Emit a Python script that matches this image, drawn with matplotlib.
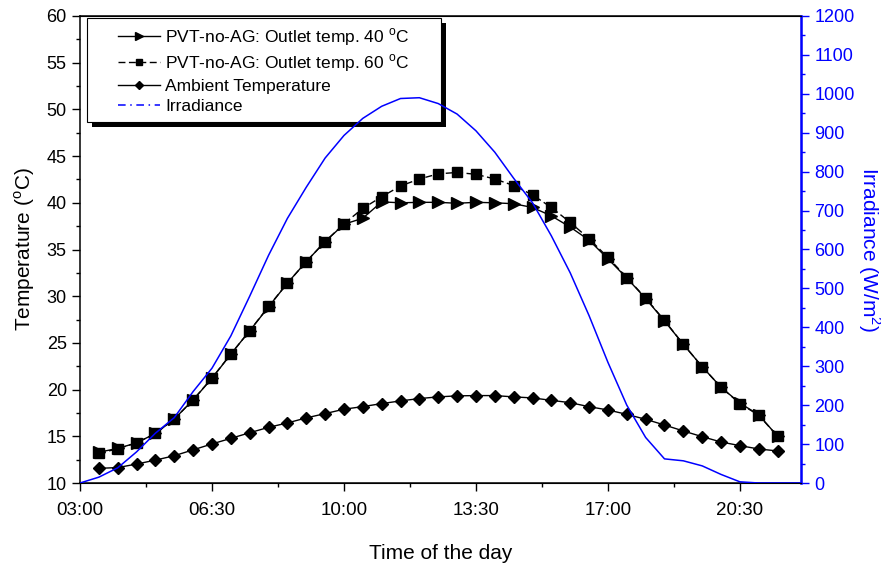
import matplotlib
matplotlib.use("Agg")
import matplotlib.pyplot as plt
from matplotlib.lines import Line2D
from matplotlib.patches import Rectangle
from matplotlib.ticker import MultipleLocator, FuncFormatter

plt.rcParams["font.family"] = ["Liberation Sans", "DejaVu Sans"]
plt.rcParams["mathtext.fontset"] = "custom"
plt.rcParams["mathtext.rm"] = "Liberation Sans"

# temperature samples, every 30 min
temp_times = ["03:30", "04:00", "04:30", "05:00", "05:30", "06:00", "06:30", "07:00",
              "07:30", "08:00", "08:30", "09:00", "09:30", "10:00", "10:30", "11:00",
              "11:30", "12:00", "12:30", "13:00", "13:30", "14:00", "14:30", "15:00",
              "15:30", "16:00", "16:30", "17:00", "17:30", "18:00", "18:30", "19:00",
              "19:30", "20:00", "20:30", "21:00", "21:30"]
outlet_40 = [13.3, 13.7, 14.3, 15.3, 16.85, 18.9, 21.2, 23.8, 26.3, 28.85, 31.4, 33.7,
             35.85, 37.7, 38.35, 40.1, 40.0, 40.05, 40.05, 39.95, 40.05, 40.0, 39.9, 39.5,
             38.6, 37.4, 36.0, 34.0, 31.95, 29.75, 27.35, 24.85, 22.45, 20.25, 18.55,
             17.3, 15.0]
outlet_60 = [13.2, 13.65, 14.3, 15.3, 16.85, 18.9, 21.25, 23.8, 26.3, 28.9, 31.4, 33.7,
             35.85, 37.75, 39.4, 40.65, 41.8, 42.55, 43.1, 43.25, 43.05, 42.55, 41.85,
             40.85, 39.5, 37.9, 36.15, 34.15, 32.0, 29.8, 27.4, 24.85, 22.45, 20.25,
             18.5, 17.25, 15.0]
ambient = [11.57, 11.65, 12.03, 12.45, 12.92, 13.55, 14.18, 14.78, 15.38, 15.96, 16.43,
           16.97, 17.43, 17.9, 18.18, 18.5, 18.79, 19.04, 19.22, 19.33, 19.36, 19.36,
           19.22, 19.11, 18.85, 18.6, 18.17, 17.82, 17.35, 16.82, 16.21, 15.57, 14.96,
           14.39, 14.0, 13.64, 13.43]

# irradiance samples
irr_times = ["03:00", "03:30", "04:00", "04:30", "05:00", "05:30", "06:00", "06:30",
             "07:00", "07:30", "08:00", "08:30", "09:00", "09:30", "10:00", "10:30",
             "11:00", "11:30", "12:00", "12:30", "13:00", "13:30", "14:00", "14:30",
             "15:00", "15:30", "16:00", "16:30", "17:00", "17:30", "18:00", "18:30",
             "19:00", "19:30", "20:00", "20:30", "21:00", "21:30", "22:00", "22:30"]
irradiance = [0, 15, 39, 80, 128, 168, 235, 295, 378, 480, 585, 680, 760, 835, 893, 937,
              968, 988, 990, 975, 948, 905, 850, 783, 720, 635, 540, 430, 310, 200, 117,
              62, 57, 44, 22, 3, 0, 0, 0, 0]


def to_hours(stamps):
    return [int(s[:2]) + int(s[3:]) / 60.0 for s in stamps]


def hhmm(h, _pos=None):
    total = int(round(h * 60))
    return f"{total // 60:02d}:{total % 60:02d}"


t = to_hours(temp_times)
ti = to_hours(irr_times)

fig = plt.figure(figsize=(8.81, 5.66), dpi=100)
ax = fig.add_axes([80 / 881, 1 - 483 / 566, 721 / 881, 467 / 566])
ax2 = ax.twinx()

deg = r"$^\mathregular{o}$"
ax.plot(t, outlet_40, color="k", lw=1.0, marker=">", ms=8.5, zorder=3,
        label=f"PVT-no-AG: Outlet temp. 40 {deg}C")
ax.plot(t, outlet_60, color="k", lw=1.0, ls=(0, (5, 2.5)), marker="s", ms=6.5, zorder=3,
        label=f"PVT-no-AG: Outlet temp. 60 {deg}C")
ax.plot(t, ambient, color="k", lw=1.0, marker="D", ms=6.5, zorder=3,
        label="Ambient Temperature")
ax2.plot(ti, irradiance, color="blue", lw=1.1, zorder=3)

ax.set_xlim(3.0, 22.12)
ax.set_ylim(10, 60)
ax2.set_ylim(0, 1200)

ax.xaxis.set_major_locator(MultipleLocator(3.5, offset=3.0))
ax.xaxis.set_minor_locator(MultipleLocator(1.75, offset=3.0))
ax.xaxis.set_major_formatter(FuncFormatter(hhmm))
ax.yaxis.set_major_locator(MultipleLocator(5))
ax.yaxis.set_minor_locator(MultipleLocator(2.5))
ax2.yaxis.set_major_locator(MultipleLocator(100))
ax2.yaxis.set_minor_locator(MultipleLocator(50))

ax.tick_params(which="major", direction="out", length=6, width=1.0, labelsize=13)
ax.tick_params(which="minor", direction="out", length=3, width=1.0)
ax.tick_params(axis="x", pad=8, labelsize=13.5)
ax2.tick_params(which="major", direction="out", length=6, width=1.0, colors="blue",
                labelsize=13)
ax2.tick_params(which="minor", direction="out", length=3, width=1.0, colors="blue")

for side in ("left", "bottom", "top"):
    ax.spines[side].set_linewidth(1.1)
ax2.spines["right"].set_color("blue")
ax2.spines["right"].set_linewidth(1.8)
ax2.spines["left"].set_visible(False)

ax.set_xlabel("Time of the day", fontsize=15, labelpad=18)
ax.set_ylabel(f"Temperature ({deg}C)", fontsize=15, labelpad=7)
ax2.set_ylabel("Irradiance (W/m$^\\mathregular{2}$)", fontsize=15, color="blue",
               rotation=270, labelpad=20)

# legend box with hard black shadow (drawn under the irradiance line)
ax2.add_patch(Rectangle((0.0097 + 0.0075, 0.773 - 0.0115), 0.491, 0.2227,
                        transform=ax2.transAxes, facecolor="k", edgecolor="none",
                        zorder=1))
ax2.add_patch(Rectangle((0.0097, 0.773), 0.491, 0.2227, transform=ax2.transAxes,
                        facecolor="white", edgecolor="k", lw=0.8, zorder=1.5))

handles, labels = ax.get_legend_handles_labels()
handles.append(Line2D([], [], color="blue", lw=1.1, ls=(0, (5, 3, 1, 3))))
labels.append("Irradiance")
leg = ax2.legend(handles, labels, loc="upper left", bbox_to_anchor=(0.053, 0.979),
                 frameon=False, fontsize=12.5, borderpad=0, borderaxespad=0,
                 handlelength=2.4, handletextpad=0.3, labelspacing=0.28,
                 markerscale=0.7)
leg.set_zorder(5)

fig.savefig("out.png", dpi=100)
